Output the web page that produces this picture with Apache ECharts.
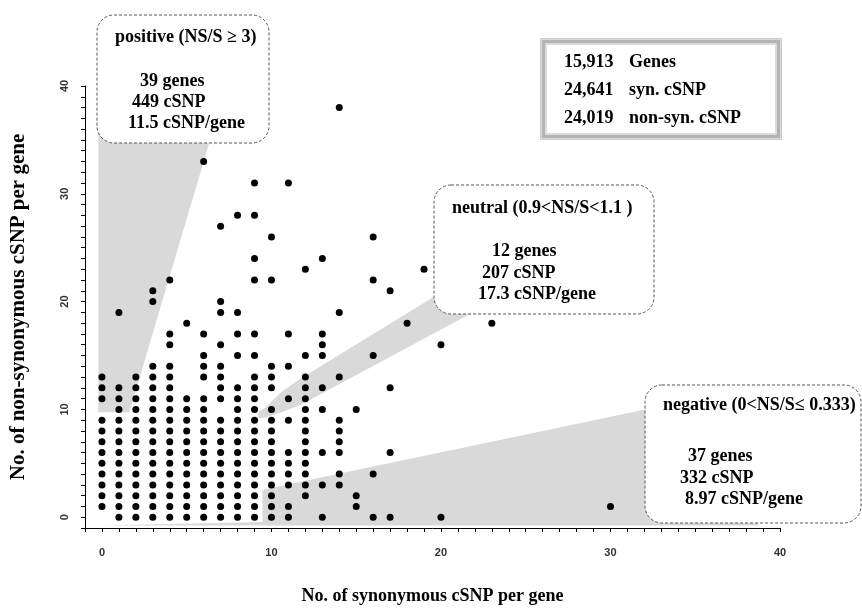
<!DOCTYPE html>
<html>
<head>
<meta charset="utf-8">
<script src="https://cdn.jsdelivr.net/npm/echarts@6/dist/echarts.min.js"></script>
<style>
html,body{margin:0;padding:0;background:#fff;}
#main{width:862px;height:610px;}
</style>
</head>
<body>
<div id="main"></div>
<script>
// 同义cSNP数（横轴取值）
var synCounts = [0, 1, 2, 3, 4, 5, 6, 7, 8, 9, 10, 11, 12, 13, 14, 15, 16, 17, 18, 19, 20, 23, 30];
// 每个横轴取值对应的非同义cSNP数（纵轴取值）
var nonSynByCol = [
    [1, 2, 3, 4, 5, 6, 7, 8, 9, 11, 12, 13],
    [0, 1, 2, 3, 4, 5, 6, 7, 8, 9, 10, 11, 12, 19],
    [0, 1, 2, 3, 4, 5, 6, 7, 8, 9, 10, 11, 12, 13],
    [0, 1, 2, 3, 4, 5, 6, 7, 8, 9, 10, 11, 12, 13, 14, 20, 21],
    [0, 1, 2, 3, 4, 5, 6, 7, 8, 9, 10, 11, 12, 13, 14, 16, 17, 22],
    [0, 1, 2, 3, 4, 5, 6, 7, 8, 9, 10, 11, 18],
    [0, 1, 2, 3, 4, 5, 6, 7, 8, 9, 10, 11, 13, 14, 15, 17, 33],
    [0, 1, 2, 3, 4, 5, 6, 7, 8, 9, 11, 12, 13, 14, 16, 19, 20, 27],
    [0, 1, 2, 3, 4, 5, 6, 7, 8, 9, 10, 11, 12, 15, 17, 19, 28],
    [0, 1, 2, 3, 4, 5, 6, 7, 8, 9, 10, 11, 12, 13, 15, 17, 22, 24, 28, 31],
    [0, 1, 2, 3, 4, 5, 6, 7, 8, 9, 10, 12, 13, 14, 22, 26],
    [0, 1, 3, 4, 5, 6, 9, 11, 14, 17, 31],
    [2, 3, 4, 5, 6, 7, 8, 9, 10, 11, 12, 13, 15, 23],
    [0, 3, 6, 10, 12, 15, 16, 17, 24],
    [3, 4, 6, 7, 8, 9, 13, 19, 38],
    [1, 2, 10],
    [0, 4, 15, 22, 26],
    [0, 6, 12, 21],
    [18],
    [23],
    [0, 16],
    [18],
    [1]
];
var xTickLabels = [0, 10, 20, 30, 40];
var yTickLabels = [0, 10, 20, 30, 40];

// 阴影区域（数据坐标）
var positiveArea = [[-0.21, 9.73], [1.62, 9.73], [6.57, 36], [-0.21, 36]];
var neutralArea = [[9.17, 9.36], [9.29, 9.82], [9.65, 10.18], [10.59, 11.64], [11.77, 12.91], [19.68, 20.55],
    [22.4, 23.09], [23.86, 20.55], [22.21, 19.27], [17.67, 15.45], [11.77, 10.45], [10.59, 9.73], [9.71, 9.27], [9.29, 9.18]];
var negativeArea = [[-0.21, -0.77], [9.47, -0.45], [9.47, 2.55], [38.73, 12.2], [38.73, -0.77]];
var shadeAreas = [positiveArea, neutralArea, negativeArea];

var posLines = ["positive (NS/S \u2265 3)", "39 genes", "449 cSNP", "11.5 cSNP/gene"];
var neuLines = ["neutral (0.9<NS/S<1.1 )", "12 genes", "207 cSNP", "17.3 cSNP/gene"];
var negLines = ["negative (0<NS/S\u2264 0.333)", "37 genes", "332 cSNP", "8.97 cSNP/gene"];
var statNums = ["15,913", "24,641", "24,019"];
var statNames = ["Genes", "syn. cSNP", "non-syn. cSNP"];

function $each(arr, fn) {
    for (var k = 0; k < arr.length; k++) fn(k, arr[k]);
}
var points = [];
$each(synCounts, function (i, s) {
    $each(nonSynByCol[i], function (j, ns) {
        points.push([s, ns]);
    });
});

var serif = '"Liberation Serif","Times New Roman",serif';
var boxFont = 'bold 18px ' + serif;

//文本
function txt(str, x, y) {
    return {type: 'text', x: x, y: y, z: 110,
        style: {text: str, font: boxFont, fill: '#000', verticalAlign: 'middle'}};
}
//虚线圆角框
function dashBox(x, y, w, h) {
    return {type: 'rect', z: 100,
        shape: {x: x, y: y, width: w, height: h, r: 17},
        style: {fill: '#fff', stroke: '#555', lineWidth: 1, lineDash: [3, 2]}};
}

var graphics = [
    dashBox(97, 15, 172, 128),
    txt(posLines[0], 115, 37), txt(posLines[1], 140, 81), txt(posLines[2], 132, 102), txt(posLines[3], 128, 123),
    dashBox(434, 185, 220, 129),
    txt(neuLines[0], 452, 208), txt(neuLines[1], 492, 251), txt(neuLines[2], 482, 273), txt(neuLines[3], 478, 294),
    dashBox(645, 385, 216, 138),
    txt(negLines[0], 663, 405), txt(negLines[1], 688, 456), txt(negLines[2], 680, 478), txt(negLines[3], 685, 499),
    {type: 'rect', z: 100, shape: {x: 540.5, y: 38.5, width: 241, height: 101},
        style: {fill: '#fff', stroke: '#cccccc', lineWidth: 1}},
    {type: 'rect', z: 101, shape: {x: 543.5, y: 41.5, width: 235, height: 95},
        style: {fill: 'none', stroke: '#b4b4b4', lineWidth: 4}},
    {type: 'rect', z: 101, shape: {x: 546.5, y: 44.5, width: 229, height: 89},
        style: {fill: 'none', stroke: '#dddddd', lineWidth: 1}},
    txt(statNums[0], 564, 62), txt(statNames[0], 629, 62),
    txt(statNums[1], 564, 90), txt(statNames[1], 629, 90),
    txt(statNums[2], 564, 118), txt(statNames[2], 629, 118)
];

var myChart = echarts.init(document.getElementById('main'));
var option = {
    animation: false,
    grid: {left: 83, top: 86, width: 697, height: 451},
    xAxis: {
        type: 'value', min: -1, max: 40, interval: 1,
        name: 'No. of synonymous cSNP per gene', nameLocation: 'middle', nameGap: 59,
        nameTextStyle: {fontFamily: serif, fontWeight: 'bold', fontSize: 18, color: '#000'},
        axisLine: {show: true, onZero: false, lineStyle: {color: '#000', width: 1}},
        axisTick: {show: true, length: 4, lineStyle: {color: '#000'}},
        splitLine: {show: false},
        axisLabel: {
            margin: 19, fontFamily: '"Liberation Sans",Arial,sans-serif', fontSize: 11, fontWeight: 'bold', color: '#333',
            formatter: function (v) { return xTickLabels.indexOf(v) >= 0 ? String(v) : ''; }
        }
    },
    yAxis: {
        type: 'value', min: -1, max: 40, interval: 1,
        name: 'No. of non-synonymous cSNP per gene', nameLocation: 'middle', nameGap: 56,
        nameTextStyle: {fontFamily: serif, fontWeight: 'bold', fontSize: 21, color: '#000'},
        axisLine: {show: true, onZero: false, lineStyle: {color: '#000', width: 1}},
        axisTick: {show: true, length: 4, lineStyle: {color: '#000'}},
        splitLine: {show: false},
        axisLabel: {
            margin: 15, rotate: 90, fontFamily: '"Liberation Sans",Arial,sans-serif', fontSize: 11, fontWeight: 'bold', color: '#333',
            formatter: function (v) { return yTickLabels.indexOf(v) >= 0 ? String(v) : ''; }
        }
    },
    series: [
        {
            type: 'custom', silent: true, z: 1, clip: false,
            data: [[0, 0], [0, 0], [0, 0]],
            renderItem: function (params, api) {
                var pts = shadeAreas[params.dataIndex].map(function (p) { return api.coord(p); });
                return {type: 'polygon', shape: {points: pts}, style: {fill: '#d9d9d9'}};
            }
        },
        {
            type: 'scatter', z: 3, symbolSize: 7,
            itemStyle: {color: '#000', opacity: 1},
            data: points
        }
    ],
    graphic: graphics
};
myChart.setOption(option);
</script>
</body>
</html>
